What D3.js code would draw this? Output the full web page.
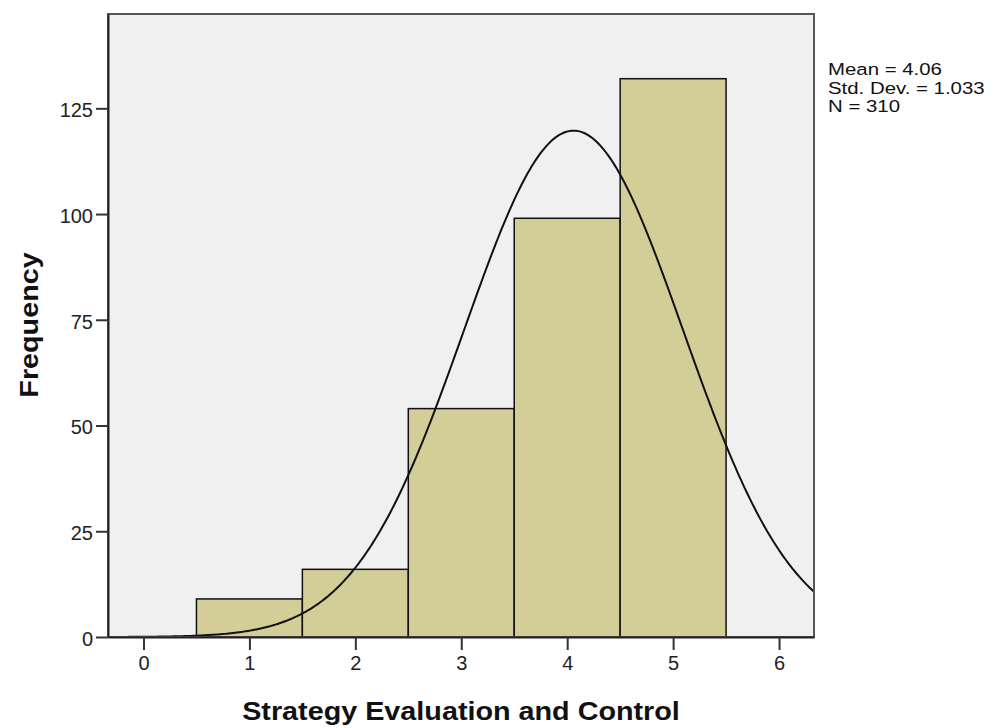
<!DOCTYPE html>
<html>
<head>
<meta charset="utf-8">
<script src="https://cdn.jsdelivr.net/npm/d3@7"></script>
<style>
  body { margin: 0; background: #fff; }
  svg { display: block; font-family: "Liberation Sans", Arial, sans-serif; }
</style>
</head>
<body>
<div id="chart"></div>
<script>
// histogram bins (midpoints) and counts
var binMids = [1, 2, 3, 4, 5];
var counts = [9, 16, 54, 99, 132];
var xTicks = [0, 1, 2, 3, 4, 5, 6];
var yTicks = [0, 25, 50, 75, 100, 125];
// fitted normal curve stats
var stats = { mean: 4.06, sd: 1.033, n: 310 };
var statLines = ["Mean = 4.06", "Std. Dev. = 1.033", "N = 310"];

var width = 997, height = 728;
var margin = { top: 14, right: 183, bottom: 91, left: 108 };

var svg = d3.select("#chart").append("svg")
    .attr("width", width)
    .attr("height", height);

var x = d3.scaleLinear()
    .domain([-0.335, 6.33])
    .range([margin.left, width - margin.right]);

var y = d3.scaleLinear()
    .domain([0, 147.3])
    .range([height - margin.bottom, margin.top]);

// plot background
svg.append("rect")
    .attr("x", x.range()[0])
    .attr("y", y.range()[1])
    .attr("width", x.range()[1] - x.range()[0])
    .attr("height", y.range()[0] - y.range()[1])
    .style("fill", "#f0f0f0");

svg.append("clipPath").attr("id", "clip")
  .append("rect")
    .attr("x", x.range()[0])
    .attr("y", y.range()[1])
    .attr("width", x.range()[1] - x.range()[0])
    .attr("height", y.range()[0] - y.range()[1]);

// bars
svg.selectAll("rect.bar")
    .data(counts)
    .enter().append("rect")
    .attr("class", "bar")
    .attr("x", function(d, i){ return x(binMids[i] - 0.5); })
    .attr("width", function(d, i){ return x(binMids[i] + 0.5) - x(binMids[i] - 0.5); })
    .attr("y", function(d){ return y(d); })
    .attr("height", function(d){ return y(0) - y(d); })
    .style("fill", "#d3ce97")
    .style("stroke", "#111")
    .style("stroke-width", 1.5);

// normal curve scaled to counts (bin width 1)
var curvePts = d3.range(x.domain()[0], x.domain()[1] + 0.01, 0.02).map(function(v){
    var z = (v - stats.mean) / stats.sd;
    return [v, stats.n / (stats.sd * Math.sqrt(2 * Math.PI)) * Math.exp(-0.5 * z * z)];
});

svg.append("path")
    .datum(curvePts)
    .attr("clip-path", "url(#clip)")
    .attr("d", d3.line()
        .x(function(d){ return x(d[0]); })
        .y(function(d){ return y(d[1]); }))
    .style("fill", "none")
    .style("stroke", "#111")
    .style("stroke-width", 2);

// frame
svg.append("rect")
    .attr("x", x.range()[0])
    .attr("y", y.range()[1])
    .attr("width", x.range()[1] - x.range()[0])
    .attr("height", y.range()[0] - y.range()[1])
    .style("fill", "none")
    .style("stroke", "#555")
    .style("stroke-width", 2);

// axes
var xAxis = svg.append("g")
    .attr("transform", "translate(0," + y(0) + ")")
    .call(d3.axisBottom(x).tickValues(xTicks).tickFormat(d3.format("d"))
        .tickSizeInner(13).tickSizeOuter(0).tickPadding(6));

var yAxis = svg.append("g")
    .attr("transform", "translate(" + x.range()[0] + ",0)")
    .call(d3.axisLeft(y).tickValues(yTicks)
        .tickSizeInner(12).tickSizeOuter(0).tickPadding(3));

[xAxis, yAxis].forEach(function(a){
    a.select(".domain").style("stroke", "#222").style("stroke-width", 2);
    a.selectAll(".tick line").style("stroke", "#333").style("stroke-width", 2);
    a.selectAll(".tick text")
        .style("font-family", "'Liberation Sans', Arial, sans-serif")
        .style("font-size", "20px")
        .style("fill", "#222");
});
yAxis.selectAll(".tick text").attr("dy", "0.42em");

// axis titles
svg.append("text")
    .attr("transform", "translate(461,720) scale(1.15,1)")
    .attr("text-anchor", "middle")
    .style("font-size", "25px")
    .style("font-weight", "bold")
    .style("fill", "#111")
    .text("Strategy Evaluation and Control");

svg.append("text")
    .attr("transform", "translate(38,325) rotate(-90) scale(1.15,1)")
    .attr("text-anchor", "middle")
    .style("font-size", "25px")
    .style("font-weight", "bold")
    .style("fill", "#111")
    .text("Frequency");

// stats legend
svg.append("g")
    .attr("transform", "translate(828,0)")
  .selectAll("text")
    .data(statLines)
    .enter().append("text")
    .attr("transform", function(d, i){ return "translate(0," + (75 + i * 18.5) + ") scale(1.2,1)"; })
    .style("font-size", "17px")
    .style("fill", "#111")
    .text(function(d){ return d; });
</script>
</body>
</html>
